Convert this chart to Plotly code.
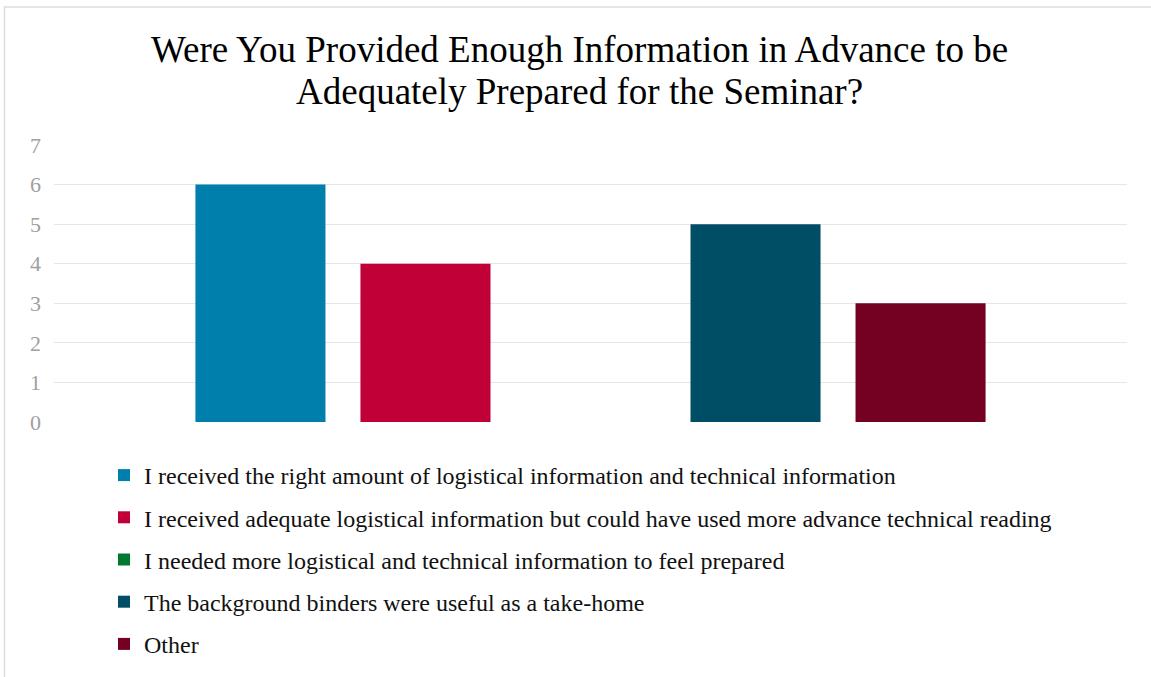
import plotly.graph_objects as go

category = [""]
series_names = [
    "I received the right amount of logistical information and technical information",
    "I received adequate logistical information but could have used more advance technical reading",
    "I needed more logistical and technical information to feel prepared",
    "The background binders were useful as a take-home",
    "Other",
]
series_values = [6, 4, 0, 5, 3]
series_colors = ["#007FAD", "#C00036", "#00782F", "#004D66", "#740022"]
y_ticks = [0, 1, 2, 3, 4, 5, 6, 7]
title_lines = ["Were You Provided Enough Information in Advance to be",
               "Adequately Prepared for the Seminar?"]

W, H = 1151, 677
L, R, T, B = 54, 24, 145, 254
SERIF = "Liberation Serif"

fig = go.Figure()
for name, val, col in zip(series_names, series_values, series_colors):
    fig.add_trace(go.Bar(x=category, y=[val], name=name, marker=dict(color=col, line=dict(width=0)),
                         legendgroup=name))

pw = W - L - R
ph = H - T - B

def py(pix):
    return (H - B - pix) / ph

def px(pix):
    return (pix - L) / pw

annotations = []
for line, ypix in zip(title_lines, [49, 91]):
    annotations.append(dict(text=line, xref="paper", yref="paper", x=px(579), y=py(ypix),
                            xanchor="center", yanchor="middle", showarrow=False,
                            font=dict(size=37, family=SERIF, color="#000000")))

fig.update_layout(
    width=W, height=H,
    margin=dict(l=L, r=R, t=T, b=B),
    paper_bgcolor="white", plot_bgcolor="white",
    font=dict(family=SERIF, color="#000000"),
    annotations=annotations,
    barmode="group",
    bargap=0.231,
    bargroupgap=0.212,
    xaxis=dict(showticklabels=False, showgrid=False, zeroline=False, showline=False, ticks=""),
    yaxis=dict(range=[0, 7], tickvals=y_ticks, showgrid=True, gridcolor="#E6E6E6", gridwidth=1.3,
               zeroline=False, showline=False, ticks="",
               tickfont=dict(size=22, color="#A0A0A0", family=SERIF),
               ticklabelstandoff=12),
    showlegend=True,
    legend=dict(orientation="v", x=px(104), xanchor="left",
                y=py(453), yanchor="top",
                font=dict(size=24, family=SERIF, color="#111111"),
                tracegroupgap=8, bgcolor="rgba(0,0,0,0)", traceorder="grouped"),
    shapes=[dict(type="rect", xref="paper", yref="paper",
                 x0=px(4.5), x1=px(W + 20),
                 y0=py(H + 20), y1=py(6.5),
                 line=dict(color="#DDDDDD", width=1.5), fillcolor="rgba(0,0,0,0)", layer="below")],
)

fig.write_html("out.html", config={"displayModeBar": False},
               post_script="document.body.style.margin='0';")
